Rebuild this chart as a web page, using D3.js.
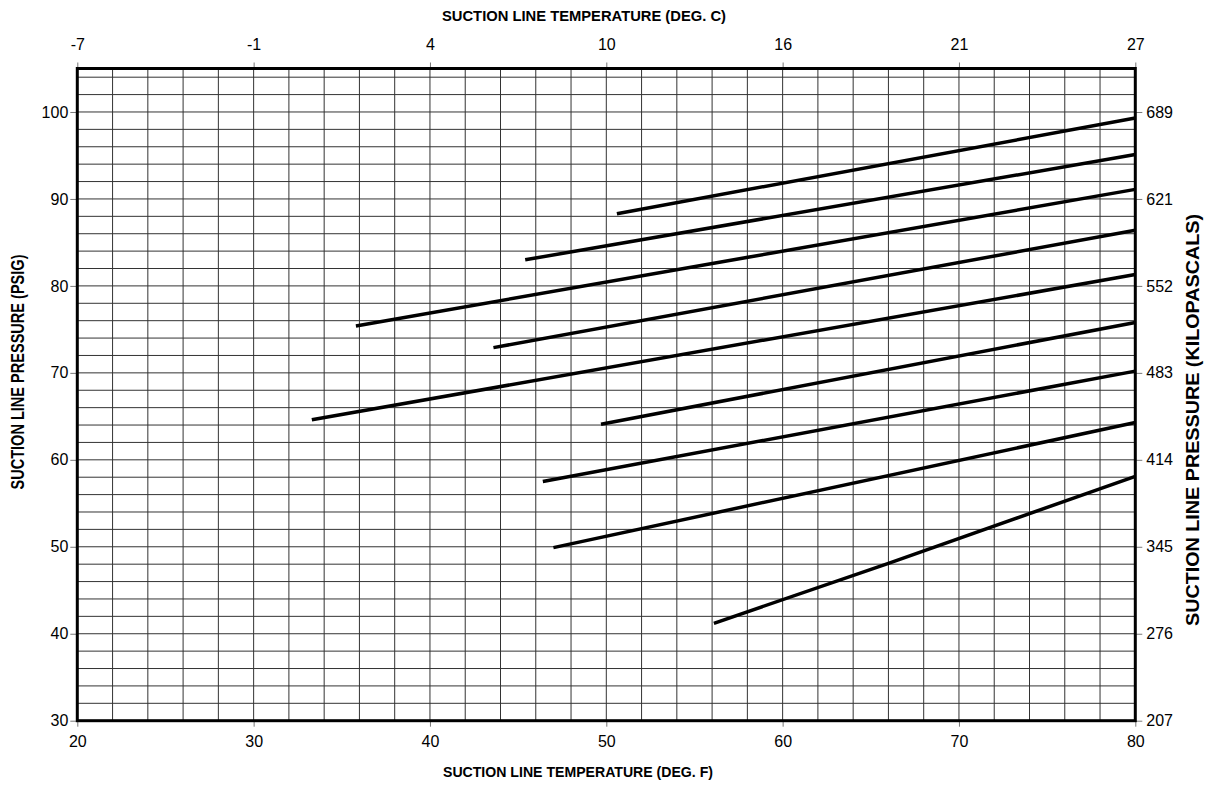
<!DOCTYPE html>
<html>
<head>
<meta charset="utf-8">
<script src="https://cdn.jsdelivr.net/npm/d3@7"></script>
<style>
  body { margin: 0; background: #fff; }
  text { font-family: "Liberation Sans", Arial, Helvetica, sans-serif; fill: #000; }
  .tick text { font-size: 16px; }
  .title { font-weight: bold; }
</style>
</head>
<body>
<div id="chart"></div>
<script>
// tick values and their labels
var fahrenheitTicks = [20, 30, 40, 50, 60, 70, 80];
var celsiusLabels = ["-7", "-1", "4", "10", "16", "21", "27"];
var psigTicks = [30, 40, 50, 60, 70, 80, 90, 100];
var kpaLabels = ["207", "276", "345", "414", "483", "552", "621", "689"];

// each line: start and end points [degF, psig]
var line1 = [[50.6, 88.3], [80, 99.3]];
var line2 = [[45.4, 83.0], [80, 95.1]];
var line3 = [[35.8, 75.4], [80, 91.1]];
var line4 = [[43.6, 72.9], [80, 86.4]];
var line5 = [[33.3, 64.6], [80, 81.3]];
var line6 = [[49.7, 64.1], [80, 75.8]];
var line7 = [[46.4, 57.5], [80, 70.2]];
var line8 = [[47.0, 49.9], [80, 64.3]];
var line9 = [[56.1, 41.2], [66.0, 48.1], [80, 58.1]];
var lines = [line1, line2, line3, line4, line5, line6, line7, line8, line9];

function drawChart() {
	var margin = {top: 68.5, right: 72.7, bottom: 65.3, left: 77.3},
	W = 1208, H = 786,
	w = W - margin.left - margin.right,
	h = H - margin.top - margin.bottom;

	var svg = d3.select("#chart")
				.append("svg")
				.attr("width", W)
				.attr("height", H)
				.append("g")
				.attr("transform", "translate(" + margin.left + "," + margin.top + ")");

	var xScale = d3.scaleLinear().domain([20, 80]).range([0, w]);
	var yScale = d3.scaleLinear().domain([30, 105]).range([h, 0]);

	// grid, every 2 degrees and every 2 psig
	svg.append("g").selectAll("line")
	   .data(d3.range(22, 80, 2))
	   .enter()
	   .append("line")
	   .attr("x1", d => xScale(d)).attr("x2", d => xScale(d))
	   .attr("y1", 0).attr("y2", h)
	   .attr("stroke", "#333")
	   .attr("stroke-width", 1);

	svg.append("g").selectAll("line")
	   .data(d3.range(32, 105, 2))
	   .enter()
	   .append("line")
	   .attr("x1", 0).attr("x2", w)
	   .attr("y1", d => yScale(d)).attr("y2", d => yScale(d))
	   .attr("stroke", "#333")
	   .attr("stroke-width", 1);

	// axes
	var xAxis = d3.axisBottom(xScale).tickValues(fahrenheitTicks).tickSize(6).tickPadding(9);
	var xTop = d3.axisTop(xScale).tickValues(fahrenheitTicks).tickSize(6).tickPadding(13)
				 .tickFormat((d, i) => celsiusLabels[i]);
	var yAxis = d3.axisLeft(yScale).tickValues(psigTicks).tickSize(7).tickPadding(2);
	var yRight = d3.axisRight(yScale).tickValues(psigTicks).tickSize(7).tickPadding(4)
				   .tickFormat((d, i) => kpaLabels[i]);

	var gX = svg.append("g").attr("transform", "translate(0," + h + ")").call(xAxis);
	var gT = svg.append("g").call(xTop);
	var gY = svg.append("g").call(yAxis);
	var gR = svg.append("g").attr("transform", "translate(" + w + ",0)").call(yRight);

	[gX, gT, gY, gR].forEach(function(g) {
		g.select(".domain").remove();
		g.selectAll(".tick line").attr("stroke", "#777");
		g.selectAll(".tick text").attr("font-family", null).attr("font-size", null);
	});

	// frame
	svg.append("rect")
	   .attr("width", w)
	   .attr("height", h)
	   .attr("fill", "none")
	   .attr("stroke", "#000")
	   .attr("stroke-width", 3);

	// the curves
	var line = d3.line().x(d => xScale(d[0])).y(d => yScale(d[1]));
	svg.append("g").selectAll("path")
	   .data(lines)
	   .enter()
	   .append("path")
	   .attr("d", line)
	   .attr("fill", "none")
	   .attr("stroke", "#000")
	   .attr("stroke-width", 3.5);

	// titles (stretched to the lengths seen in the original)
	svg.append("text").attr("class", "title")
	   .attr("font-size", 15)
	   .attr("x", 584 - margin.left).attr("y", 21 - margin.top)
	   .attr("text-anchor", "middle")
	   .attr("textLength", 284).attr("lengthAdjust", "spacingAndGlyphs")
	   .text("SUCTION LINE TEMPERATURE (DEG. C)");

	svg.append("text").attr("class", "title")
	   .attr("font-size", 15)
	   .attr("x", 578 - margin.left).attr("y", 777 - margin.top)
	   .attr("text-anchor", "middle")
	   .attr("textLength", 270).attr("lengthAdjust", "spacingAndGlyphs")
	   .text("SUCTION LINE TEMPERATURE (DEG. F)");

	svg.append("text").attr("class", "title")
	   .attr("font-size", 18)
	   .attr("transform", "translate(" + (24 - margin.left) + "," + (372 - margin.top) + ") rotate(-90)")
	   .attr("text-anchor", "middle")
	   .attr("textLength", 235).attr("lengthAdjust", "spacingAndGlyphs")
	   .text("SUCTION LINE PRESSURE (PSIG)");

	svg.append("text").attr("class", "title")
	   .attr("font-size", 18)
	   .attr("transform", "translate(" + (1199 - margin.left) + "," + (420 - margin.top) + ") rotate(-90)")
	   .attr("text-anchor", "middle")
	   .attr("textLength", 412).attr("lengthAdjust", "spacingAndGlyphs")
	   .text("SUCTION LINE PRESSURE (KILOPASCALS)");
}

drawChart();
</script>
</body>
</html>
